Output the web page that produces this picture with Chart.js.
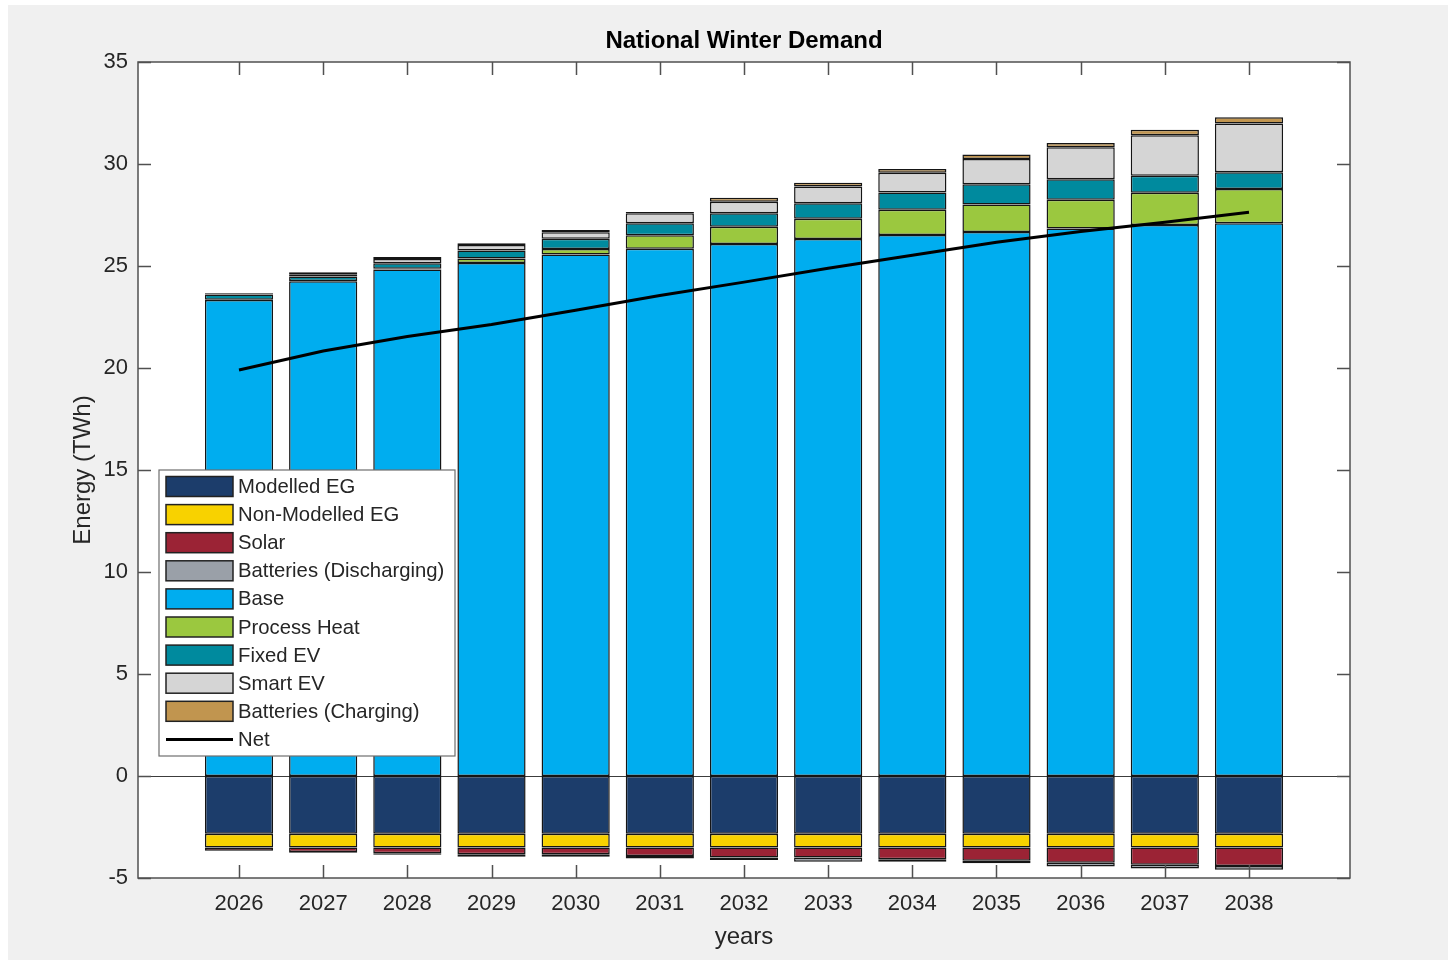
<!DOCTYPE html>
<html>
<head>
<meta charset="utf-8">
<title>National Winter Demand</title>
<script src="https://cdn.jsdelivr.net/npm/chart.js@4.4.1/dist/chart.umd.min.js"></script>
<style>
    body { margin: 0; background: #fff; }
    #fig { position: absolute; left: 8px; top: 5px; width: 1440px; height: 955px; background: #f0f0f0; }
    #demandChart { position: absolute; left: 0; top: 0; }
</style>
</head>
<body>
<div id="fig"></div>
<canvas id="demandChart" width="1448" height="960"></canvas>
<script>
// years on the x axis
const years = [2026, 2027, 2028, 2029, 2030, 2031, 2032, 2033, 2034, 2035, 2036, 2037, 2038];
const yTickValues = [-5, 0, 5, 10, 15, 20, 25, 30, 35];

// supply side (negative, TWh)
const modelledEG     = [-2.83, -2.83, -2.83, -2.83, -2.83, -2.83, -2.83, -2.83, -2.83, -2.83, -2.83, -2.83, -2.83];
const nonModelledEG  = [-0.67, -0.67, -0.67, -0.67, -0.67, -0.67, -0.67, -0.67, -0.67, -0.67, -0.67, -0.67, -0.67];
const solar          = [-0.16, -0.23, -0.29, -0.34, -0.34, -0.42, -0.50, -0.50, -0.58, -0.65, -0.75, -0.85, -0.91];
const battDischarge  = [-0.02, -0.03, -0.07, -0.12, -0.12, -0.12, -0.12, -0.20, -0.12, -0.13, -0.19, -0.19, -0.18];

// demand side (positive, TWh)
const base           = [23.33, 24.25, 24.83, 25.15, 25.56, 25.84, 26.08, 26.32, 26.52, 26.67, 26.84, 27.01, 27.10];
const processHeat    = [0.02, 0.02, 0.03, 0.22, 0.27, 0.67, 0.85, 1.00, 1.24, 1.34, 1.41, 1.58, 1.67];
const fixedEV        = [0.25, 0.22, 0.28, 0.39, 0.50, 0.58, 0.66, 0.75, 0.84, 1.00, 1.00, 0.83, 0.83];
const smartEV        = [0.04, 0.10, 0.20, 0.27, 0.33, 0.50, 0.56, 0.83, 0.97, 1.23, 1.57, 1.99, 2.39];
const battCharge     = [0.04, 0.10, 0.10, 0.08, 0.10, 0.06, 0.20, 0.18, 0.19, 0.22, 0.21, 0.27, 0.30];

// net demand line
const net            = [19.90, 20.83, 21.54, 22.13, 22.83, 23.55, 24.21, 24.89, 25.53, 26.16, 26.69, 27.15, 27.63];

const textColor = '#262626';
const fontFamily = '"Liberation Sans", Arial, Helvetica, sans-serif';

function toPoints(values) {
    return years.map(function (yr, i) { return { x: yr, y: values[i] }; });
}

function barSet(label, values, color) {
    return {
        type: 'bar',
        label: label,
        data: toPoints(values),
        backgroundColor: color,
        borderColor: '#151515',
        borderWidth: 1.5,
        borderSkipped: false,
        barPercentage: 0.81,
        categoryPercentage: 1,
        stack: 'demand'
    };
}

// MATLAB-like axes box with inward ticks, plus title and legend
const axesBox = {
    id: 'axesBox',
    beforeDraw(chart) {
        const { ctx, chartArea: a } = chart;
        ctx.save();
        ctx.fillStyle = '#ffffff';
        ctx.fillRect(a.left, a.top, a.right - a.left, a.bottom - a.top);
        ctx.restore();
    },
    beforeDatasetsDraw(chart) {
        const { ctx, chartArea: a } = chart;
        const y0 = chart.scales.y.getPixelForValue(0);
        ctx.save();
        ctx.strokeStyle = '#3c3c3c';
        ctx.lineWidth = 1;
        ctx.beginPath();
        ctx.moveTo(a.left, Math.round(y0) + 0.5);
        ctx.lineTo(a.right, Math.round(y0) + 0.5);
        ctx.stroke();
        ctx.restore();
    },
    afterDatasetsDraw(chart) {
        const { ctx, chartArea: a } = chart;
        const xs = chart.scales.x;
        const ys = chart.scales.y;
        const tick = 13;
        ctx.save();
        ctx.strokeStyle = '#505050';
        ctx.lineWidth = 1.5;
        ctx.strokeRect(a.left, a.top, a.right - a.left, a.bottom - a.top);
        ctx.beginPath();
        years.forEach(function (yr) {
            const px = Math.round(xs.getPixelForValue(yr)) + 0.5;
            ctx.moveTo(px, a.bottom); ctx.lineTo(px, a.bottom - tick);
            ctx.moveTo(px, a.top); ctx.lineTo(px, a.top + tick);
        });
        yTickValues.forEach(function (v) {
            const py = Math.round(ys.getPixelForValue(v)) + 0.5;
            ctx.moveTo(a.left, py); ctx.lineTo(a.left + tick, py);
            ctx.moveTo(a.right, py); ctx.lineTo(a.right - tick, py);
        });
        ctx.stroke();

        // title
        ctx.fillStyle = '#000';
        ctx.font = 'bold 24px ' + fontFamily;
        ctx.textAlign = 'center';
        ctx.textBaseline = 'middle';
        ctx.fillText('National Winter Demand', (a.left + a.right) / 2, 41);

        // legend
        const lx = 159, ly = 470, lw = 296, lh = 286;
        ctx.fillStyle = '#ffffff';
        ctx.fillRect(lx, ly, lw, lh);
        ctx.strokeStyle = '#6e6e6e';
        ctx.lineWidth = 1.2;
        ctx.strokeRect(lx, ly, lw, lh);
        ctx.font = '20.3px ' + fontFamily;
        ctx.textAlign = 'left';
        chart.data.datasets.forEach(function (ds, i) {
            const cy = 486.5 + i * 28.1;
            if (ds.type === 'line') {
                ctx.strokeStyle = ds.borderColor;
                ctx.lineWidth = 3;
                ctx.beginPath();
                ctx.moveTo(166, cy);
                ctx.lineTo(233, cy);
                ctx.stroke();
            } else {
                ctx.fillStyle = ds.backgroundColor;
                ctx.fillRect(166, cy - 10, 67, 20);
                ctx.strokeStyle = '#222';
                ctx.lineWidth = 1.5;
                ctx.strokeRect(166, cy - 10, 67, 20);
            }
            ctx.fillStyle = textColor;
            ctx.fillText(ds.label, 238, cy + 1);
        });
        ctx.restore();
    }
};

const ctx = document.getElementById('demandChart');
new Chart(ctx, {
    data: {
        datasets: [
            barSet('Modelled EG', modelledEG, '#1c3d6b'),
            barSet('Non-Modelled EG', nonModelledEG, '#f8d200'),
            barSet('Solar', solar, '#9b2335'),
            barSet('Batteries (Discharging)', battDischarge, '#9aa0a8'),
            barSet('Base', base, '#00adef'),
            barSet('Process Heat', processHeat, '#9bc83f'),
            barSet('Fixed EV', fixedEV, '#008a9e'),
            barSet('Smart EV', smartEV, '#d5d5d5'),
            barSet('Batteries (Charging)', battCharge, '#c1954f'),
            {
                type: 'line',
                label: 'Net',
                data: toPoints(net),
                borderColor: '#000000',
                borderWidth: 3,
                pointRadius: 0,
                tension: 0,
                stack: 'net',
                order: -1
            }
        ]
    },
    options: {
        responsive: false,
        animation: false,
        layout: { padding: { top: 62, right: 98, left: 0, bottom: 0 } },
        plugins: {
            legend: { display: false },
            tooltip: { enabled: false },
            title: { display: false }
        },
        scales: {
            x: {
                type: 'linear',
                stacked: true,
                offset: false,
                min: 2024.8,
                max: 2039.2,
                afterBuildTicks: function (scale) {
                    scale.ticks = years.map(function (v) { return { value: v }; });
                },
                afterFit: function (scale) { scale.height = 82; },
                grid: { display: false, drawTicks: false },
                border: { display: false },
                ticks: {
                    autoSkip: false,
                    maxRotation: 0,
                    padding: 13,
                    color: textColor,
                    font: { family: fontFamily, size: 22 },
                    callback: function (v) { return String(v); }
                },
                title: {
                    display: true,
                    text: 'years',
                    color: textColor,
                    font: { family: fontFamily, size: 24 },
                    padding: { top: 0, bottom: 8 }
                }
            },
            y: {
                stacked: true,
                min: -5,
                max: 35,
                afterFit: function (scale) { scale.width = 138; },
                grid: { display: false, drawTicks: false },
                border: { display: false },
                ticks: {
                    stepSize: 5,
                    padding: 10,
                    color: textColor,
                    font: { family: fontFamily, size: 22 }
                },
                title: {
                    display: true,
                    text: 'Energy (TWh)',
                    color: textColor,
                    font: { family: fontFamily, size: 24 },
                    padding: { top: 69, bottom: 0 }
                }
            }
        }
    },
    plugins: [axesBox]
});
</script>
</body>
</html>
